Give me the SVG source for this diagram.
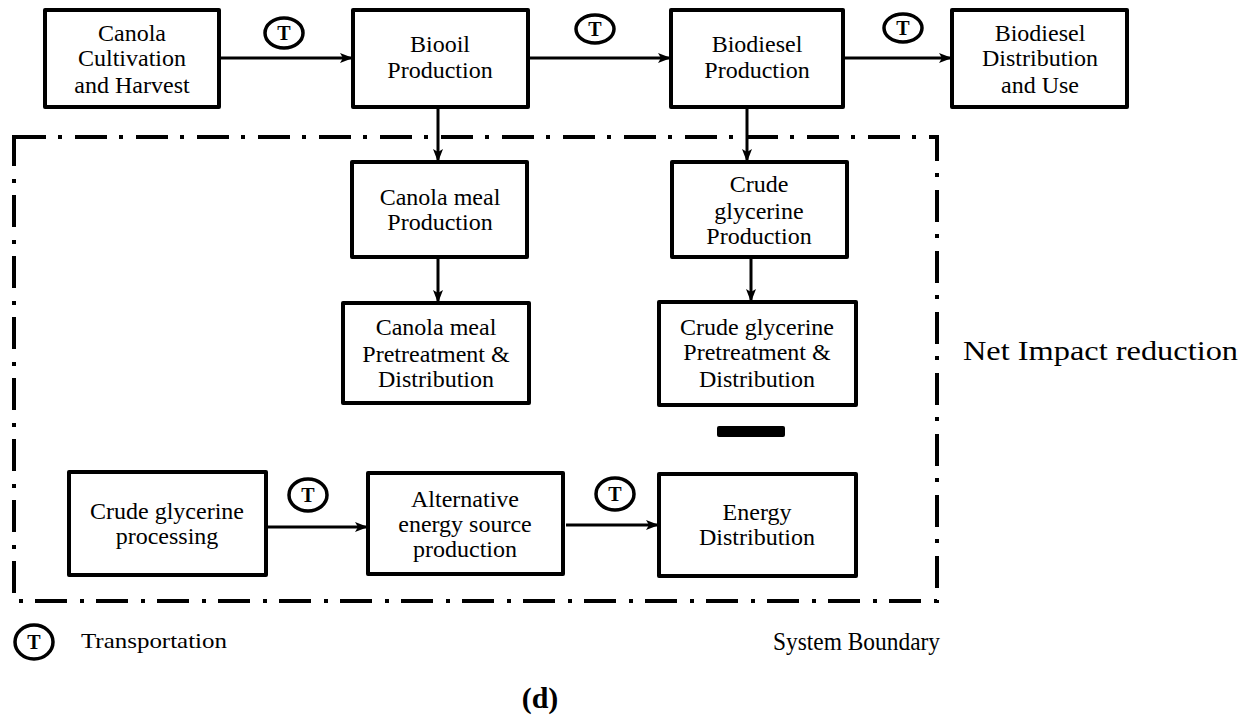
<svg xmlns="http://www.w3.org/2000/svg" width="1248" height="719" viewBox="0 0 1248 719">
<style>
.box{fill:#fff;stroke:#000;stroke-width:4;stroke-linejoin:round}
.t{font-family:"Liberation Serif","Times New Roman",serif;font-size:24px;fill:#000;text-anchor:middle}
.c{stroke:#000;stroke-width:3;fill:none}
.tc{fill:#fff;stroke:#000;stroke-width:3.5}
.tt{font-family:"Liberation Serif","Times New Roman",serif;font-size:20px;font-weight:bold;fill:#000;text-anchor:middle}
.lbl{font-family:"Liberation Serif","Times New Roman",serif;fill:#000}
</style>
<defs>
<marker id="ah" markerWidth="14" markerHeight="10" refX="12" refY="5" orient="auto" markerUnits="userSpaceOnUse">
<path d="M0,0 L13,5 L0,10 L3,5 z" fill="#000"/>
</marker>
</defs>
<rect width="1248" height="719" fill="#fff"/>
<g id="boundary">
<rect x="14" y="137" width="923" height="464" fill="none" stroke="#000" stroke-width="4" stroke-dasharray="32 12 4 13"/>
</g>
<g id="connectors">
<line class="c" x1="219" y1="58" x2="352" y2="58" marker-end="url(#ah)"/>
<line class="c" x1="528" y1="58" x2="670" y2="58" marker-end="url(#ah)"/>
<line class="c" x1="843" y1="58" x2="951" y2="58" marker-end="url(#ah)"/>
<line class="c" x1="438" y1="107" x2="438" y2="161" marker-end="url(#ah)"/>
<line class="c" x1="747" y1="107" x2="747" y2="161" marker-end="url(#ah)"/>
<line class="c" x1="438" y1="257" x2="438" y2="302" marker-end="url(#ah)"/>
<line class="c" x1="751" y1="257" x2="751" y2="301" marker-end="url(#ah)"/>
<line class="c" x1="266" y1="527" x2="367" y2="527" marker-end="url(#ah)"/>
<line class="c" x1="566" y1="525" x2="658" y2="525" marker-end="url(#ah)"/>
</g>
<g id="transport-markers">
<ellipse class="tc" cx="284" cy="33" rx="19" ry="15"/><text class="tt" x="284" y="40">T</text>
<ellipse class="tc" cx="595" cy="29" rx="19" ry="14"/><text class="tt" x="595" y="36">T</text>
<ellipse class="tc" cx="903" cy="28" rx="19" ry="14"/><text class="tt" x="903" y="35">T</text>
<ellipse class="tc" cx="308" cy="495" rx="19" ry="16"/><text class="tt" x="308" y="502">T</text>
<ellipse class="tc" cx="615" cy="494" rx="19" ry="16"/><text class="tt" x="615" y="501">T</text>
</g>
<g id="n1"><rect class="box" x="45" y="10" width="174" height="97"/>
<text class="t" x="132" y="41">Canola</text><text class="t" x="132" y="66">Cultivation</text><text class="t" x="132" y="93">and Harvest</text></g>
<g id="n2"><rect class="box" x="353" y="10" width="175" height="97"/>
<text class="t" x="440" y="52">Biooil</text><text class="t" x="440" y="78">Production</text></g>
<g id="n3"><rect class="box" x="671" y="10" width="172" height="97"/>
<text class="t" x="757" y="52">Biodiesel</text><text class="t" x="757" y="78">Production</text></g>
<g id="n4"><rect class="box" x="952" y="10" width="175" height="97"/>
<text class="t" x="1040" y="41">Biodiesel</text><text class="t" x="1040" y="66">Distribution</text><text class="t" x="1040" y="93">and Use</text></g>
<g id="n5"><rect class="box" x="352" y="162" width="175" height="95"/>
<text class="t" x="440" y="205">Canola meal</text><text class="t" x="440" y="230">Production</text></g>
<g id="n6"><rect class="box" x="672" y="162" width="175" height="95"/>
<text class="t" x="759" y="192">Crude</text><text class="t" x="759" y="219">glycerine</text><text class="t" x="759" y="244">Production</text></g>
<g id="n7"><rect class="box" x="343" y="303" width="186" height="100"/>
<text class="t" x="436" y="335">Canola meal</text><text class="t" x="436" y="362">Pretreatment &amp;</text><text class="t" x="436" y="387">Distribution</text></g>
<g id="n8"><rect class="box" x="659" y="302" width="197" height="103"/>
<text class="t" x="757" y="335">Crude glycerine</text><text class="t" x="757" y="360">Pretreatment &amp;</text><text class="t" x="757" y="387">Distribution</text></g>
<g id="minus"><rect x="717" y="426" width="68" height="11" rx="2" fill="#000"/></g>
<g id="n9"><rect class="box" x="69" y="472" width="197" height="103"/>
<text class="t" x="167" y="519">Crude glycerine</text><text class="t" x="167" y="544">processing</text></g>
<g id="n10"><rect class="box" x="368" y="473" width="195" height="101"/>
<text class="t" x="465" y="507">Alternative</text><text class="t" x="465" y="532">energy source</text><text class="t" x="465" y="557">production</text></g>
<g id="n11"><rect class="box" x="659" y="474" width="197" height="102"/>
<text class="t" x="757" y="520">Energy</text><text class="t" x="757" y="545">Distribution</text></g>
<g id="labels">
<text class="lbl" x="963" y="360" font-size="28" textLength="275" lengthAdjust="spacingAndGlyphs">Net Impact reduction</text>
<text class="lbl" x="773" y="650" font-size="26" textLength="167" lengthAdjust="spacingAndGlyphs">System Boundary</text>
<ellipse class="tc" cx="34" cy="642" rx="19" ry="17"/><text class="tt" x="34" y="649">T</text>
<text class="lbl" x="81" y="648" font-size="21" textLength="146" lengthAdjust="spacingAndGlyphs">Transportation</text>
<text class="lbl" x="540" y="708" font-size="30" font-weight="bold" text-anchor="middle">(d)</text>
</g>
</svg>
